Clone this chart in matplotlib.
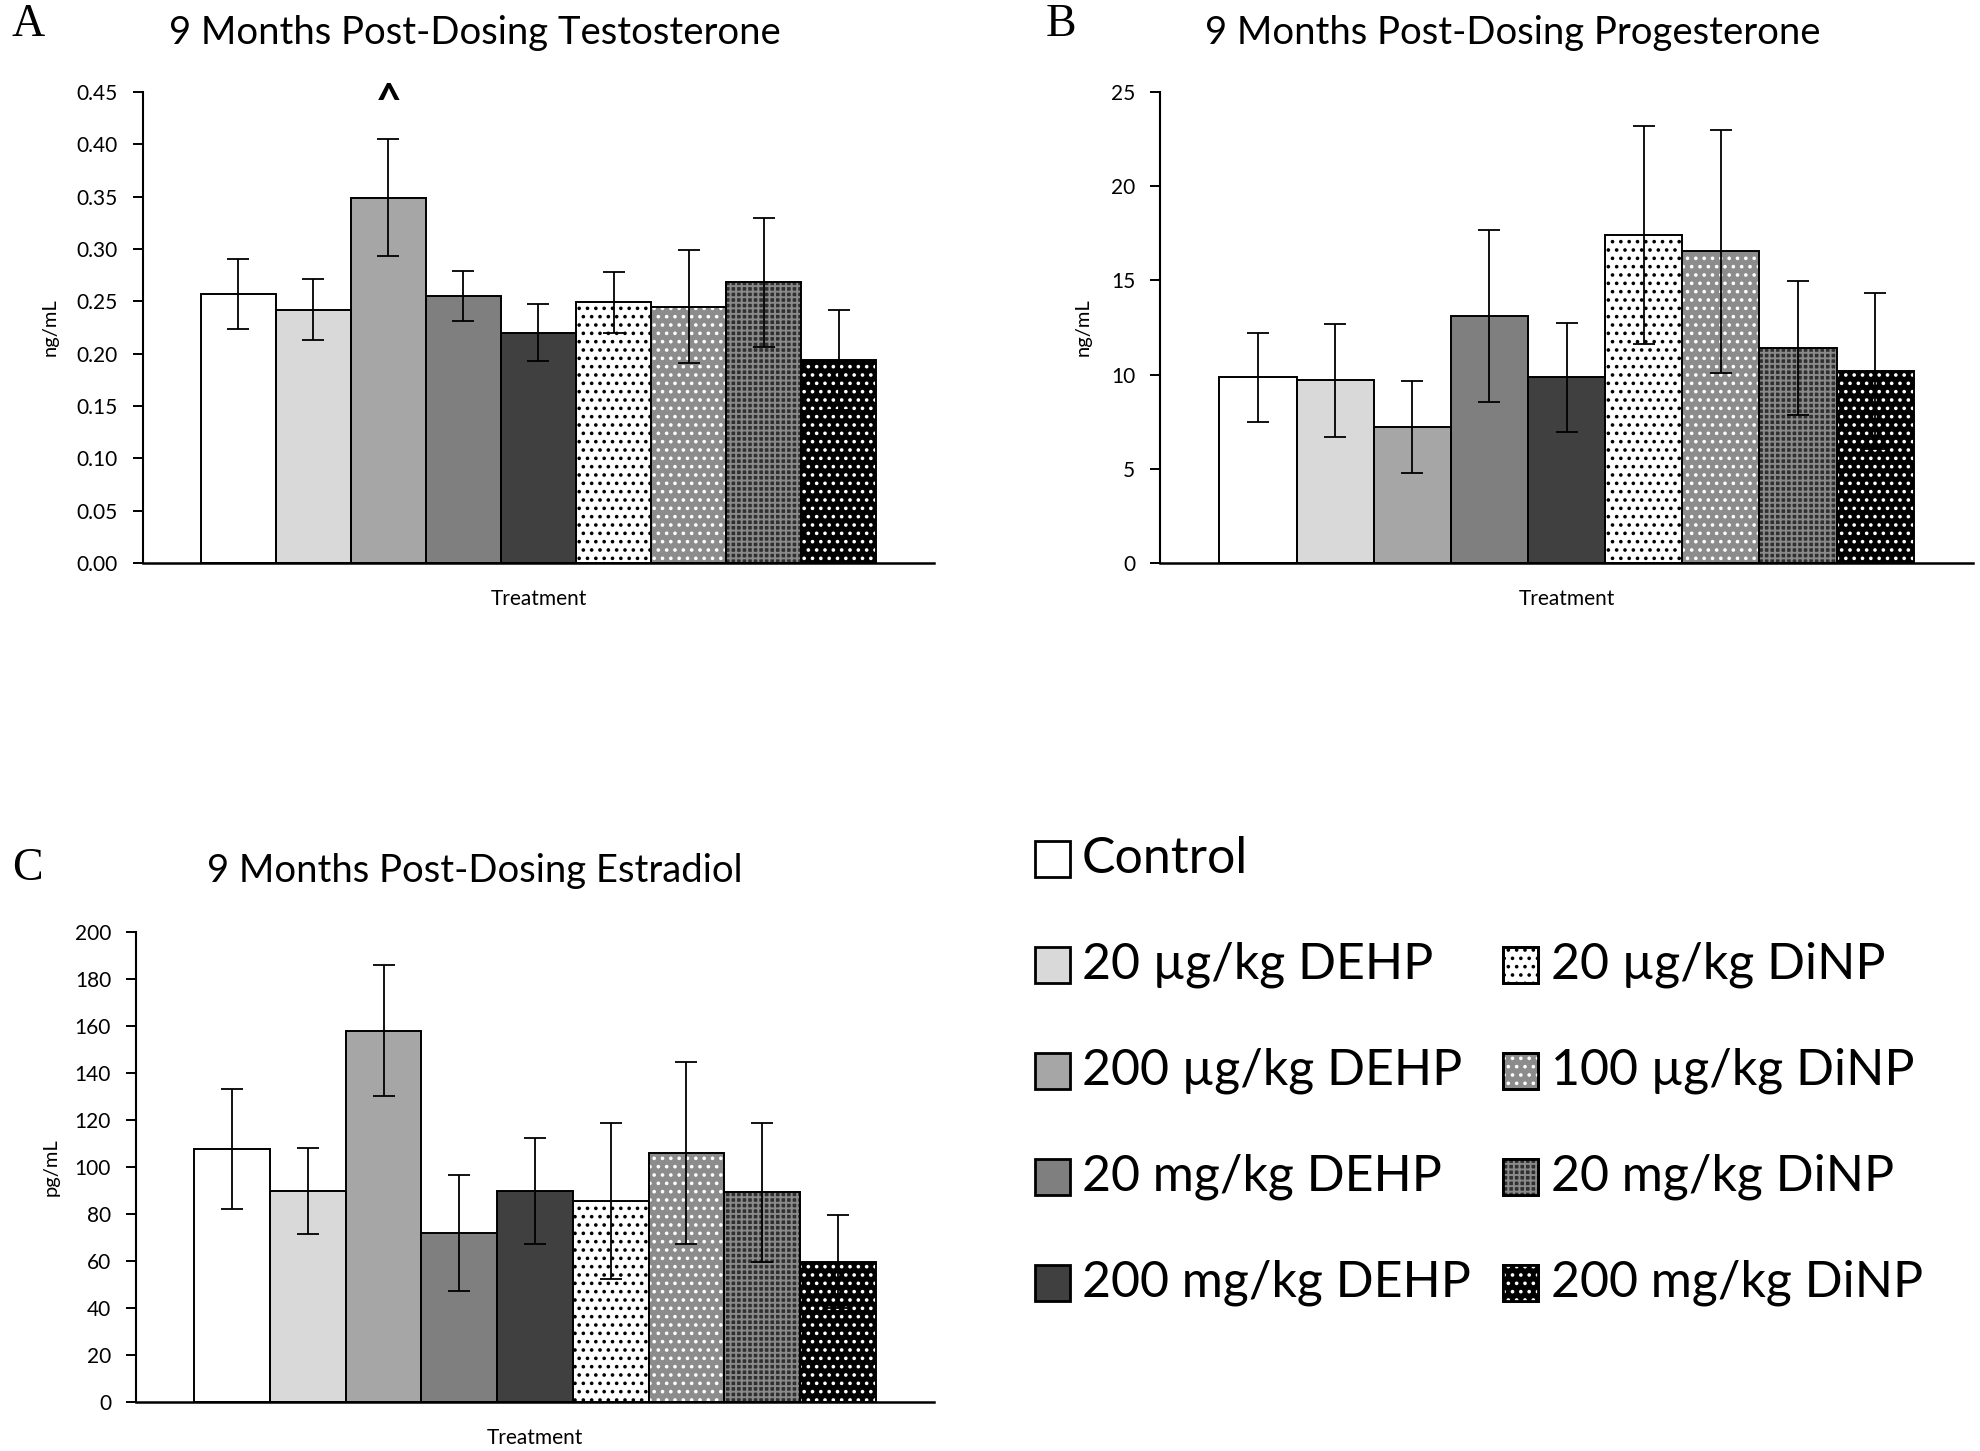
import numpy as np
import matplotlib
matplotlib.use("Agg")
from matplotlib import pyplot as plt
from matplotlib.patches import Rectangle
from matplotlib.ticker import FormatStrFormatter

plt.rcParams['font.family'] = ['Lato', 'DejaVu Sans']
plt.rcParams['hatch.linewidth'] = 1.4

# Treatment groups (one bar each, in plotting order)
groups = ['Control', '20 µg/kg DEHP', '200 µg/kg DEHP', '20 mg/kg DEHP', '200 mg/kg DEHP',
          '20 µg/kg DiNP', '100 µg/kg DiNP', '20 mg/kg DiNP', '200 mg/kg DiNP']

# Hormone means and error bars
testosterone = [0.257, 0.242, 0.349, 0.255, 0.220, 0.249, 0.245, 0.268, 0.194]
testosterone_err = [0.033, 0.029, 0.056, 0.024, 0.027, 0.029, 0.054, 0.062, 0.048]
progesterone = [9.85, 9.7, 7.2, 13.1, 9.85, 17.4, 16.55, 11.4, 10.2]
progesterone_err = [2.35, 3.0, 2.45, 4.55, 2.9, 5.8, 6.45, 3.55, 4.15]
estradiol = [107.5, 89.8, 158.0, 72.0, 89.8, 85.5, 106.0, 89.2, 59.7]
estradiol_err = [25.5, 18.3, 28.0, 24.7, 22.6, 33.0, 38.7, 29.6, 19.9]

# Fill style for each group: face colour, hatch, hatch colour
faces = ['white', '#d9d9d9', '#a6a6a6', '#7f7f7f', '#404040',
         'white', '#8c8c8c', '#303030', 'black']
hatches = [None, None, None, None, None, '..', '..', '+++', '..']
hatch_cols = [None, None, None, None, None, 'black', 'white', '#8a8a8a', 'white']

x = np.arange(len(groups))


def draw_panel(ax, vals, errs, ylim, step, fmt, ylabel):
    # plain bars with pattern, then outline on top
    ax.bar(x, vals, width=1.0, color=faces, edgecolor='none', linewidth=0, zorder=2)
    for xi, v, h, hc in zip(x, vals, hatches, hatch_cols):
        if h is not None:
            ax.bar(xi, v, width=1.0, facecolor='none', edgecolor=hc, hatch=h,
                   linewidth=0, zorder=2.5)
    ax.bar(x, vals, width=1.0, facecolor='none', edgecolor='black', linewidth=1.4, zorder=3)
    ax.errorbar(x, vals, yerr=errs, fmt='none', ecolor='black', elinewidth=1.3,
                capsize=8, capthick=1.3, zorder=4)

    ax.set_xlim(-1.27, 9.27)
    ax.set_ylim(*ylim)
    ax.set_yticks(np.arange(ylim[0], ylim[1] + step / 2, step))
    ax.yaxis.set_major_formatter(FormatStrFormatter(fmt))
    ax.set_xticks([])
    for s in ['top', 'right']:
        ax.spines[s].set_visible(False)
    ax.spines['left'].set_linewidth(1.5)
    ax.spines['bottom'].set_linewidth(1.8)
    ax.tick_params(axis='y', direction='out', length=7, width=1.4, labelsize=15, pad=11)
    ax.set_ylabel(ylabel, fontsize=14.5)
    ax.set_xlabel('Treatment', fontsize=15)


fig = plt.figure(figsize=(19.8, 14.51), dpi=100)

ax_a = fig.add_axes([0.0722, 0.612, 0.3995, 0.3246])
ax_b = fig.add_axes([0.5859, 0.612, 0.4106, 0.3246])
ax_c = fig.add_axes([0.0687, 0.0338, 0.4030, 0.3239])

draw_panel(ax_a, testosterone, testosterone_err, (0, 0.45), 0.05, '%.2f', 'ng/mL')
draw_panel(ax_b, progesterone, progesterone_err, (0, 25), 5, '%d', 'ng/mL')
draw_panel(ax_c, estradiol, estradiol_err, (0, 200), 20, '%d', 'pg/mL')

ax_a.yaxis.set_label_coords(-0.106, 0.5)
ax_b.yaxis.set_label_coords(-0.084, 0.5)
ax_c.yaxis.set_label_coords(-0.096, 0.5)
for ax in (ax_a, ax_b, ax_c):
    ax.xaxis.set_label_coords(0.5, -0.055)

# titles
ax_a.text(0.42, 1.125, '9 Months Post-Dosing Testosterone', transform=ax_a.transAxes,
          ha='center', va='center', fontsize=27.5)
ax_b.text(0.434, 1.125, '9 Months Post-Dosing Progesterone', transform=ax_b.transAxes,
          ha='center', va='center', fontsize=27.5)
ax_c.text(0.425, 1.13, '9 Months Post-Dosing Estradiol', transform=ax_c.transAxes,
          ha='center', va='center', fontsize=27.5)

# significance mark over 200 ug/kg DEHP
ax_a.text(x[2], 0.428, '^', ha='center', va='baseline', fontsize=32, fontweight='bold',
          clip_on=False)

# panel letters
letter_kw = dict(ha='center', va='center', fontsize=33, family='Liberation Serif')
fig.text(0.0141, 0.983, 'A', **letter_kw)
fig.text(0.536, 0.983, 'B', **letter_kw)
fig.text(0.0141, 0.401, 'C', **letter_kw)

# legend: Control alone on first row, DEHP in left column, DiNP in right column
rows_y = [859, 965, 1071, 1177, 1283]
slots = [(0, 0)] + [(0, r) for r in range(1, 5)] + [(1, r) for r in range(1, 5)]
box_x = [1035, 1503]
text_x = [1082, 1551]
W, H = 1980.0, 1451.0
for i, (col, row) in enumerate(slots):
    yc = rows_y[row]
    bx, bw, bh = box_x[col], 35, 36
    rect = Rectangle((bx / W, 1 - (yc + bh / 2) / H), bw / W, bh / H,
                     transform=fig.transFigure, facecolor=faces[i], edgecolor='black',
                     linewidth=2.0)
    fig.add_artist(rect)
    if hatches[i] is not None:
        hr = Rectangle((bx / W, 1 - (yc + bh / 2) / H), bw / W, bh / H,
                       transform=fig.transFigure, facecolor='none', edgecolor=hatch_cols[i],
                       hatch=hatches[i], linewidth=0)
        fig.add_artist(hr)
        fig.add_artist(Rectangle((bx / W, 1 - (yc + bh / 2) / H), bw / W, bh / H,
                                 transform=fig.transFigure, facecolor='none',
                                 edgecolor='black', linewidth=2.0))
    fig.text(text_x[col] / W, 1 - yc / H, groups[i], ha='left', va='center', fontsize=36)

fig.savefig('out.png', dpi=100)
